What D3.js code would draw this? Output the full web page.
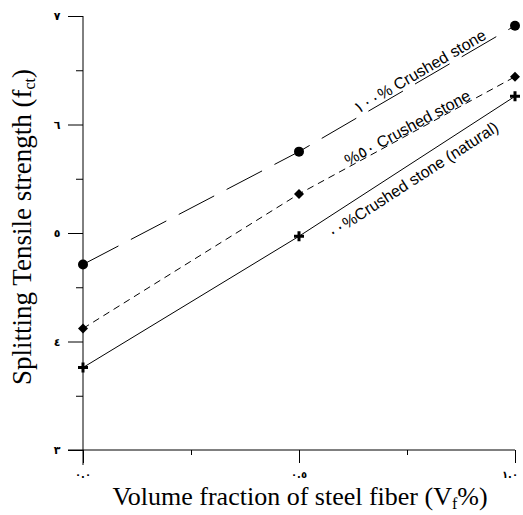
<!DOCTYPE html>
<html><head><meta charset="utf-8">
<script src="https://cdn.jsdelivr.net/npm/d3@7"></script>
<style>body{margin:0;background:#fff}svg{display:block}</style>
</head><body>
<svg id="c" width="523" height="515"></svg>
<script>
const xValues = [0, 0.5, 1.0];
const xTickLabels = ["٠.٠", "٠.٥", "١.٠"];
const yMajorTicks = [3, 4, 5, 6, 7];
const yTickLabels = ["٣", "٤", "٥", "٦", "٧"];
const xMinorTicks = [0.25, 0.75];
const yMinorTicks = [3.5, 4.5, 5.5, 6.5];
const seriesNames = ["١٠٠% Crushed stone", "%٥٠ Crushed stone", "٠٠%Crushed stone (natural)"];
const crushed100 = [4.71, 5.75, 6.91];
const crushed50 = [4.12, 5.36, 6.44];
const natural0 = [3.76, 4.97, 6.26];
const xTitle = "Volume fraction of steel fiber (V";
const yTitle = "Splitting Tensile strength (f";

const svg = d3.select("#c");
const x = d3.scaleLinear().domain([0, 1]).range([83, 515]);
const y = d3.scaleLinear().domain([3, 7]).range([450, 16]);

// axes lines
svg.append("line").attr("x1", x(0)).attr("x2", x(0)).attr("y1", y(7)).attr("y2", y(3) + 15).attr("stroke", "#000");
svg.append("line").attr("x1", x(0) - 15).attr("x2", x(1)).attr("y1", y(3)).attr("y2", y(3)).attr("stroke", "#000");

const gy = svg.append("g").attr("transform", `translate(${x(0)},0)`);
gy.call(d3.axisLeft(y).tickValues(yMajorTicks).tickSize(15).tickFormat(""));
gy.append("g").call(d3.axisLeft(y).tickValues(yMinorTicks).tickSize(7).tickFormat(""));
gy.selectAll(".domain").remove();
gy.selectAll("line").attr("stroke", "#000");

const gx = svg.append("g").attr("transform", `translate(0,${y(3)})`);
gx.call(d3.axisBottom(x).tickValues(xValues).tickSize(13).tickFormat(""));
gx.append("g").call(d3.axisBottom(x).tickValues(xMinorTicks).tickSize(5).tickFormat(""));
gx.selectAll(".domain").remove();
gx.selectAll("line").attr("stroke", "#000");

// tick labels
svg.selectAll(".ylab").data(yMajorTicks).enter().append("text")
  .attr("x", 57).attr("y", d => y(d) + 4)
  .attr("text-anchor", "middle").attr("font-family", "DejaVu Sans").attr("font-weight", "bold")
  .attr("font-size", 11).text((d, i) => yTickLabels[i]);
svg.selectAll(".xlab").data(xValues).enter().append("text")
  .attr("x", d => x(d) - (d === 1 ? 5 : 0)).attr("y", 478)
  .attr("text-anchor", "middle").attr("font-family", "DejaVu Sans").attr("font-weight", "bold")
  .attr("font-size", 10).style("unicode-bidi", "bidi-override").style("direction", "ltr")
  .text((d, i) => xTickLabels[i]);

// titles
const xt = svg.append("text").attr("x", 300).attr("y", 505).attr("text-anchor", "middle")
  .attr("font-family", "Liberation Serif").attr("font-size", 26);
xt.append("tspan").text(xTitle);
xt.append("tspan").attr("font-size", 16).attr("dy", 4).text("f");
xt.append("tspan").attr("dy", -4).text("%)");

const yt = svg.append("text").attr("transform", "translate(31,227) rotate(-90)").attr("text-anchor", "middle")
  .attr("font-family", "Liberation Serif").attr("font-size", 27);
yt.append("tspan").text(yTitle);
yt.append("tspan").attr("font-size", 16).attr("dy", 4).text("ct");
yt.append("tspan").attr("dy", -4).text(")");

const series = [
  { vals: crushed100, dash: "40,14", marker: "circle", name: seriesNames[0], t: 0.79, off: -3 },
  { vals: crushed50, dash: "7,5", marker: "diamond", name: seriesNames[1], t: 0.758, off: -1 },
  { vals: natural0, dash: null, marker: "plus", name: seriesNames[2], t: 0.745, off: 20 }
];

const line = d3.line().x((d, i) => x(xValues[i])).y(d => y(d));

series.forEach(s => {
  svg.append("path").attr("d", line(s.vals)).attr("fill", "none").attr("stroke", "#000")
    .attr("stroke-width", 1).attr("stroke-dasharray", s.dash);
  s.vals.forEach((v, i) => {
    const cx = x(xValues[i]), cy = y(v);
    if (s.marker === "circle") {
      svg.append("circle").attr("cx", cx).attr("cy", cy).attr("r", 5).attr("fill", "#000");
    } else if (s.marker === "diamond") {
      svg.append("path").attr("d", `M${cx},${cy - 5}L${cx + 5},${cy}L${cx},${cy + 5}L${cx - 5},${cy}Z`).attr("fill", "#000");
    } else {
      svg.append("path").attr("d", `M${cx - 5},${cy}H${cx + 5}M${cx},${cy - 5}V${cy + 5}`).attr("stroke", "#000").attr("stroke-width", 3);
    }
  });
  // label
  const x1 = x(xValues[1]), y1 = y(s.vals[1]), x2 = x(xValues[2]), y2 = y(s.vals[2]);
  const ang = Math.atan2(y2 - y1, x2 - x1) * 180 / Math.PI;
  const u = (s.t - 0.5) / 0.5;
  const px = x1 + (x2 - x1) * u, py = y1 + (y2 - y1) * u;
  svg.append("text").attr("transform", `translate(${px},${py}) rotate(${ang})`)
    .attr("y", s.off).attr("text-anchor", "middle")
    .attr("font-family", "Liberation Sans").attr("font-size", 16)
    .style("unicode-bidi", "bidi-override").style("direction", "ltr")
    .text(s.name);
});
</script>
</body></html>
